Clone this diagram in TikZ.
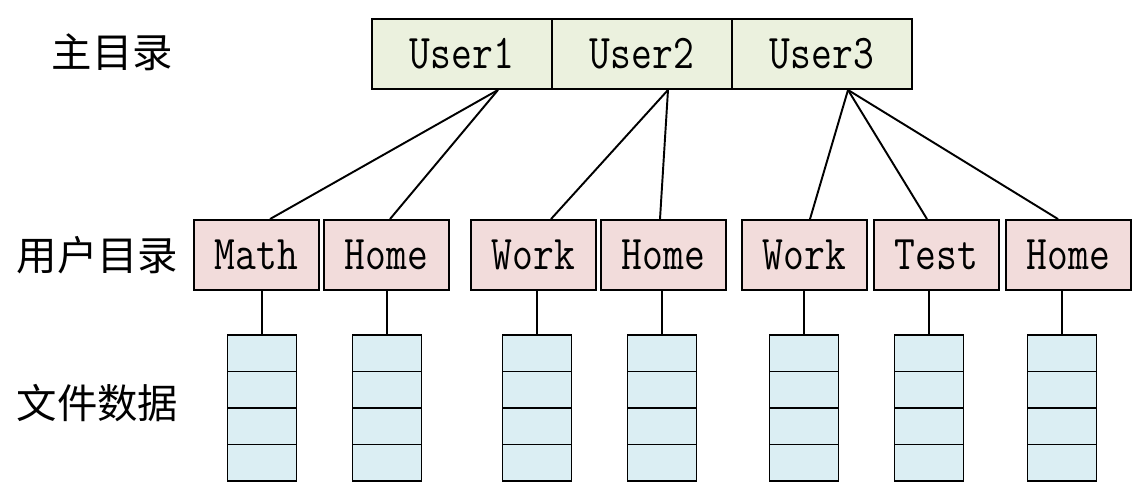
\documentclass[tikz,border=0pt]{standalone}
\usepackage{fontspec}
\newfontfamily\cjk{Noto Sans CJK SC}
\definecolor{topgreen}{HTML}{EBF1DE}
\definecolor{userpink}{HTML}{F2DCDB}
\definecolor{fileblue}{HTML}{DBEEF3}
\newcommand\tallname[1]{\scalebox{1}[1.2]{#1}}
\begin{document}
\begin{tikzpicture}[x=0.02cm,y=-0.02cm,
  dirbox/.style={draw,line width=1.1pt,inner sep=0pt,minimum height=1.4cm,font=\fontsize{23}{23}\selectfont\ttfamily},
  filecell/.style={draw,line width=1.1pt,fill=fileblue,inner sep=0pt,minimum width=1.38cm,minimum height=0.73cm},
  levellabel/.style={inner sep=0pt,font=\fontsize{23}{23}\selectfont\cjk}]
\useasboundingbox (0,0) rectangle (1140,491);

% level names
\node[levellabel] (lmain) at (112.5,52) {主目录};
\node[levellabel] (luser) at (97.5,255) {用户目录};
\node[levellabel] (lfile) at (97.5,403) {文件数据};

% main directory
\foreach \n/\x/\t in {1/462/User1,2/642/User2,3/822/User3}
  {\node[dirbox,fill=topgreen,minimum width=3.6cm] (u\n) at (\x,54) {\tallname{\t}};}

% user directories
\foreach \n/\x/\t in {1/256.5/Math,2/386.5/Home,3/533.5/Work,4/663.5/Home,5/804.5/Work,6/936.5/Test,7/1068.5/Home}
  {\node[dirbox,fill=userpink,minimum width=2.5cm] (m\n) at (\x,255) {\tallname{\t}};}

% file data
\foreach \n/\x in {1/262,2/387,3/537,4/662,5/804,6/929,7/1062} {
  \foreach \k in {0,...,3} {\node[filecell] (s\n-\k) at (\x,{353.25+36.5*\k}) {};}
  \draw[line width=1.1pt] (m\n.south -| s\n-0.north) -- (s\n-0.north);
}

% links
\foreach \a/\da/\b/\db in {1/36/1/13.5,1/36/2/3.5,2/26/3/17.5,2/26/4/-3.5,3/26/5/5.5,3/26/6/-9.5,3/26/7/-10.5}
  {\draw[line width=1.1pt] ([xshift=\da*0.02cm]u\a.south) -- ([xshift=\db*0.02cm]m\b.north);}
\end{tikzpicture}
\end{document}
